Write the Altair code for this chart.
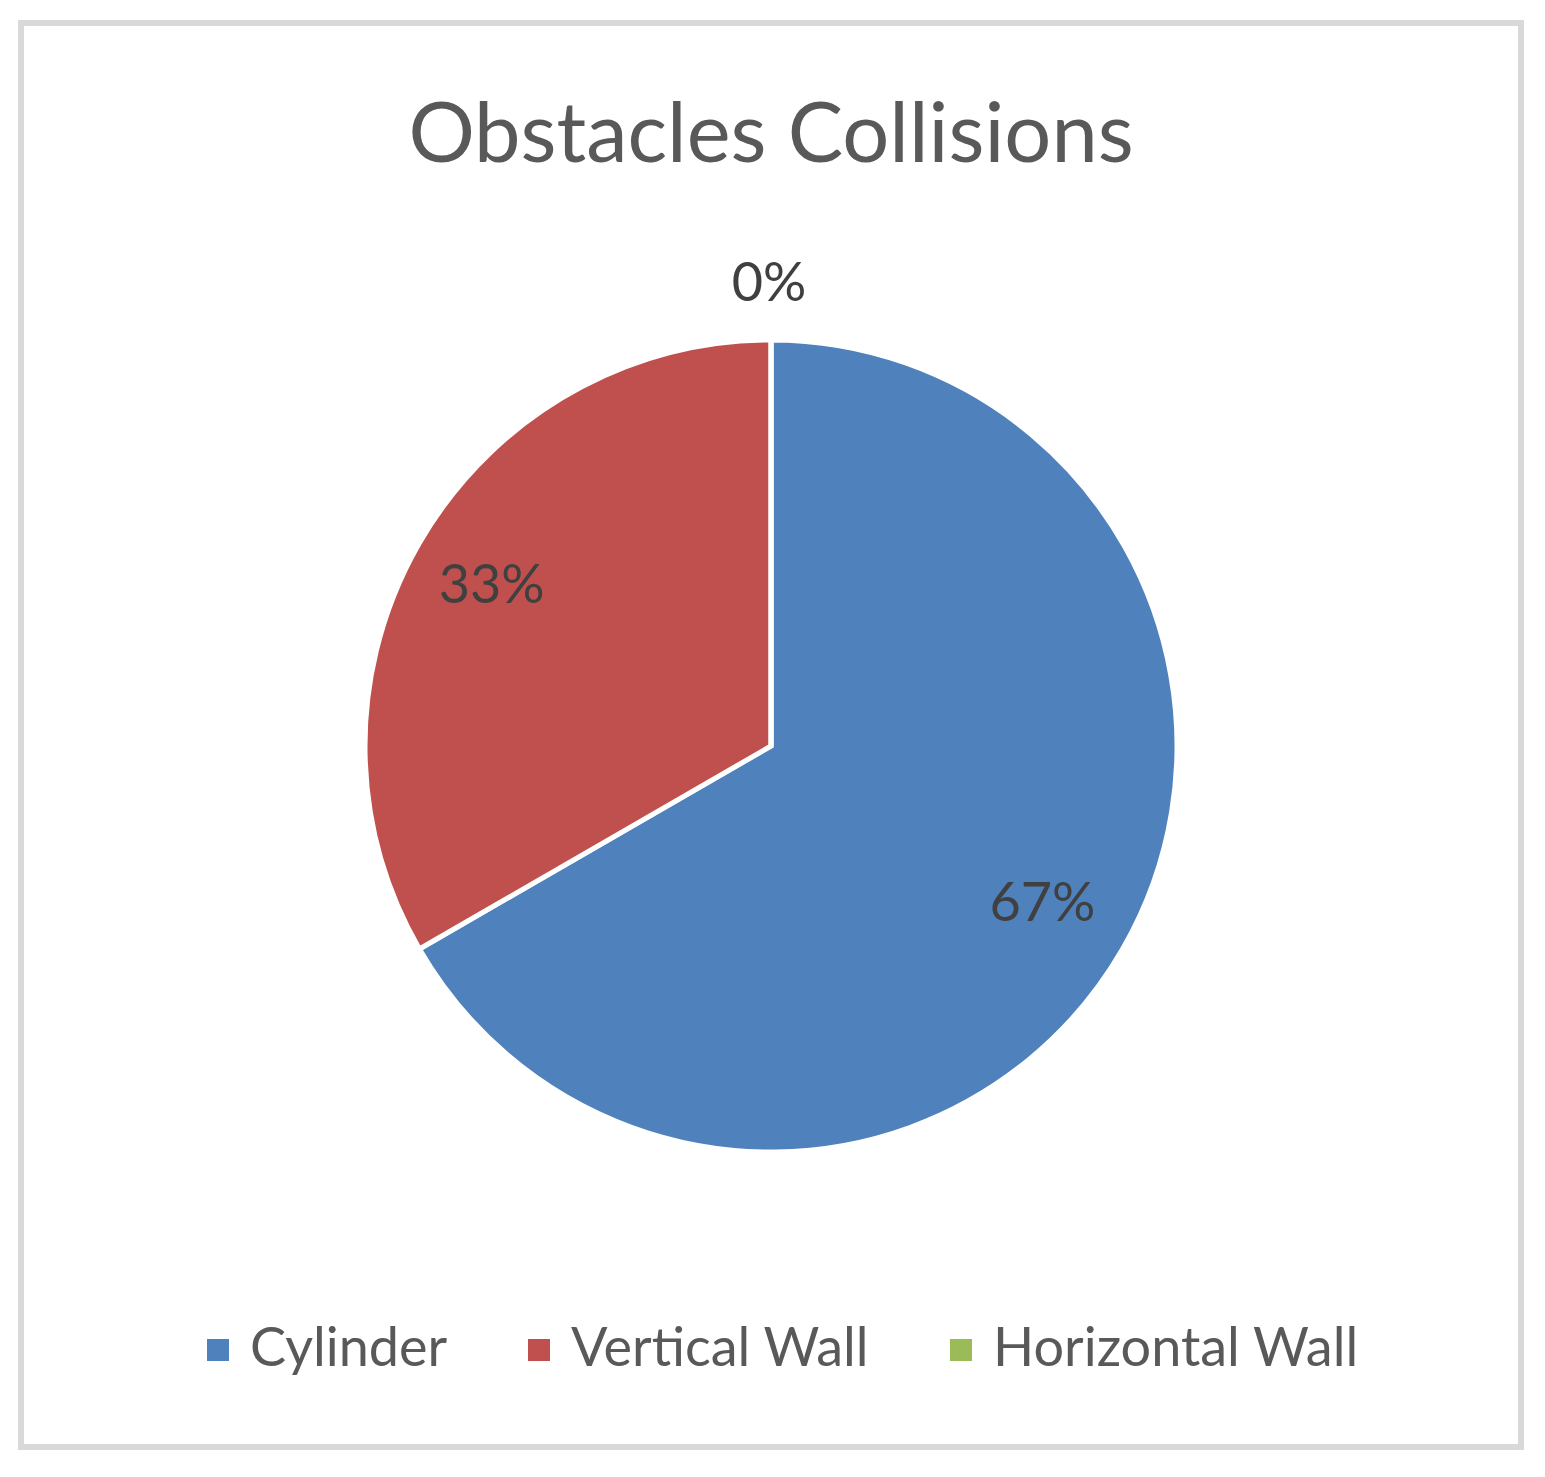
import altair as alt
import pandas as pd

categories = ["Cylinder", "Vertical Wall", "Horizontal Wall"]
values = [2, 1, 0]
colors = ["#4F81BD", "#C0504D", "#9BBB59"]

df = pd.DataFrame({"category": categories, "value": values, "idx": list(range(len(categories)))})

FONT = "Lato"
W, H = 1500, 1424
CX, CY = 750, 723

frame = alt.Chart(pd.DataFrame({"k": [0]})).mark_rect(
    fill="white", stroke="#d9d9d9", strokeWidth=6
).encode(x=alt.value(0), x2=alt.value(W), y=alt.value(0), y2=alt.value(H))

base = alt.Chart(df).transform_joinaggregate(
    total="sum(value)"
).transform_calculate(
    pct="round(datum.value / datum.total * 100) + '%'",
).transform_calculate(
    label_in="datum.value > 0 ? datum.pct : ''",
    label_out="datum.value == 0 ? datum.pct : ''",
).encode(
    theta=alt.Theta("value:Q", stack=True),
    order=alt.Order("idx:Q"),
)

pie = base.mark_arc(radius=406, stroke="white", strokeWidth=5).encode(
    color=alt.Color(
        "category:N",
        scale=alt.Scale(domain=categories, range=colors),
        legend=alt.Legend(
            title=None,
            orient="none",
            legendX=170,
            legendY=1300,
            direction="horizontal",
            symbolType="square",
            symbolSize=484,
            symbolStrokeWidth=0,
            labelFontSize=54,
            labelFont=FONT,
            labelColor="#595959",
            labelOffset=5,
            labelLimit=1000,
            columnPadding=64,
        ),
    ),
    x=alt.value(CX),
    y=alt.value(CY),
)

lab_in = base.mark_text(radius=318, font=FONT, fontSize=54, color="#404040",
                        align="center", baseline="middle").encode(
    text="label_in:N", x=alt.value(CX - 4), y=alt.value(CY)
)
lab_out = base.mark_text(radius=461, font=FONT, fontSize=54, color="#404040",
                         align="center", baseline="middle").encode(
    text="label_out:N", x=alt.value(CX - 2), y=alt.value(CY)
)

chart = alt.layer(frame, pie, lab_in, lab_out).properties(
    width=W,
    height=H,
    autosize=alt.AutoSizeParams(type="none"),
    padding={"left": 13, "top": 15, "right": 6, "bottom": 6},
    title=alt.TitleParams(
        "Obstacles Collisions",
        font=FONT,
        fontSize=83,
        fontWeight="normal",
        color="#595959",
        anchor="middle",
        baseline="alphabetic",
        offset=-225,
    ),
).configure_view(stroke=None).configure(background="white")

chart.save("out.html", embed_options={"renderer": "svg", "actions": False})
